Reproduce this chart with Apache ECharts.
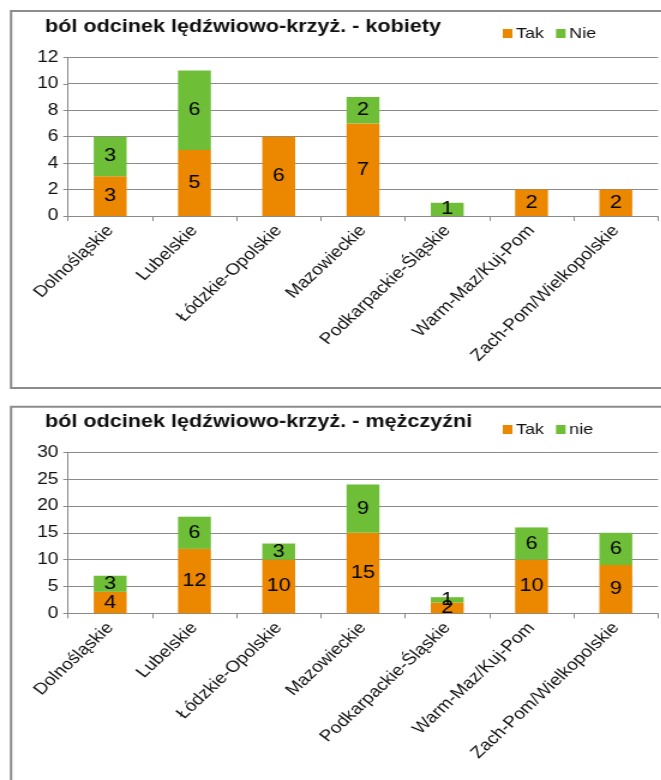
<!DOCTYPE html>
<html>
<head>
<meta charset="utf-8">
<script src="https://cdn.jsdelivr.net/npm/echarts@6/dist/echarts.min.js"></script>
<style>
  html, body { margin: 0; padding: 0; background: #fff; overflow: hidden; }
  #wrap { width: 661px; height: 780px; overflow: hidden; }
  /* the charts are drawn slightly narrower and widened horizontally */
  #chart { width: 551px; height: 780px; transform: scaleX(1.2); transform-origin: 0 0; }
</style>
</head>
<body>
<div id="wrap"><div id="chart"></div></div>
<script>
// regions (categories shared by both panels)
const regions = [
  'Dolnośląskie', 'Lubelskie', 'Łódzkie-Opolskie', 'Mazowieckie',
  'Podkarpackie-Śląskie', 'Warm-Maz/Kuj-Pom', 'Zach-Pom/Wielkopolskie'
];

// women
const womenTitle = 'ból odcinek lędźwiowo-krzyż. - kobiety';
const womenYes = [3, 5, 6, 7, 0, 2, 2];
const womenNo  = [3, 6, 0, 2, 1, 0, 0];
const womenTicks = [0, 2, 4, 6, 8, 10, 12];

// men
const menTitle = 'ból odcinek lędźwiowo-krzyż. - mężczyźni';
const menYes = [4, 12, 10, 15, 2, 10, 9];
const menNo  = [3, 6, 3, 9, 1, 6, 6];
const menTicks = [0, 5, 10, 15, 20, 25, 30];

const ORANGE = '#EC8700';
const GREEN = '#6FBE38';
const GRID = '#8a8a8a';
const FONT = '"Liberation Sans", Arial, sans-serif';

const chart = echarts.init(document.getElementById('chart'));

function yAxisFrom(ticks, gridIndex) {
  return {
    type: 'value', gridIndex,
    min: ticks[0], max: ticks[ticks.length - 1], interval: ticks[1] - ticks[0],
    axisLine: { show: true, lineStyle: { color: GRID, width: 1 } },
    axisTick: { show: true, length: 4, lineStyle: { color: GRID } },
    splitLine: { show: true, lineStyle: { color: GRID, width: 1 } },
    axisLabel: { color: '#111', fontFamily: FONT, fontSize: 16, margin: 8 }
  };
}

function xAxisFor(gridIndex) {
  return {
    type: 'category', gridIndex, data: regions,
    axisLine: { show: true, lineStyle: { color: GRID, width: 1 } },
    axisTick: { show: true, length: 5, alignWithLabel: false, lineStyle: { color: GRID } },
    axisLabel: {
      interval: 0, rotate: 48, color: '#111', fontFamily: FONT, fontSize: 16, margin: 12
    }
  };
}

const labelStyle = {
  show: true, position: 'inside', color: '#000', fontFamily: FONT, fontSize: 18,
  formatter: p => (p.value ? String(p.value) : '')
};

function barSeries(name, data, color, idx, stack) {
  return {
    type: 'bar', name, data, stack,
    xAxisIndex: idx, yAxisIndex: idx,
    barWidth: '39%',
    itemStyle: { color },
    label: labelStyle,
    emphasis: { disabled: true }
  };
}

const legendCommon = {
  orient: 'horizontal', padding: 0, itemWidth: 8, itemHeight: 9, itemGap: 10,
  icon: 'rect', selectedMode: false,
  textStyle: { fontFamily: FONT, fontSize: 15, color: '#111', padding: [0, 0, 0, -2] }
};

chart.setOption({
  animation: false,
  backgroundColor: '#fff',
  title: [
    { text: womenTitle, left: 37.5, top: 18, padding: 0,
      textStyle: { fontFamily: FONT, fontSize: 18, fontWeight: 'bold', color: '#111' } },
    { text: menTitle, left: 37.5, top: 413, padding: 0,
      textStyle: { fontFamily: FONT, fontSize: 18, fontWeight: 'bold', color: '#111' } }
  ],
  legend: [
    Object.assign({ left: 419, top: 26, data: ['Tak', 'Nie'] }, legendCommon),
    Object.assign({ left: 419, top: 422, data: ['Tak', 'nie'] }, legendCommon)
  ],
  grid: [
    { left: 56.7, right: 2.7, top: 57.3, height: 158.7, containLabel: false },
    { left: 56.7, right: 2.7, top: 452.3, height: 161, containLabel: false }
  ],
  xAxis: [xAxisFor(0), xAxisFor(1)],
  yAxis: [yAxisFrom(womenTicks, 0), yAxisFrom(menTicks, 1)],
  series: [
    barSeries('Tak', womenYes, ORANGE, 0, 'w'),
    barSeries('Nie', womenNo, GREEN, 0, 'w'),
    barSeries('Tak', menYes, ORANGE, 1, 'm'),
    barSeries('nie', menNo, GREEN, 1, 'm')
  ],
  graphic: [
    { type: 'rect', silent: true, z: -1,
      shape: { x: 9.2, y: 11, width: 600, height: 377 },
      style: { fill: 'none', stroke: '#8c8c8c', lineWidth: 2 } },
    { type: 'rect', silent: true, z: -1,
      shape: { x: 9.2, y: 406.7, width: 600, height: 500 },
      style: { fill: 'none', stroke: '#8c8c8c', lineWidth: 2 } }
  ]
});
</script>
</body>
</html>
